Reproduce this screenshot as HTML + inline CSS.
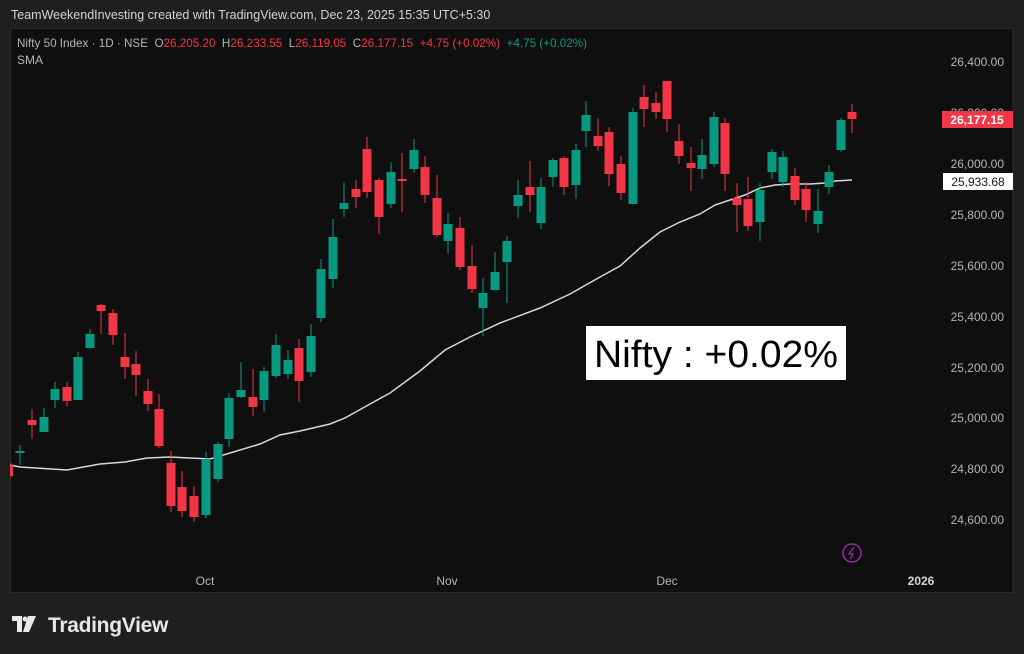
<!DOCTYPE html>
<html><head><meta charset="utf-8"><style>
html,body{margin:0;padding:0;background:#1f1f1f;width:1024px;height:654px;overflow:hidden;font-family:"Liberation Sans",sans-serif}
</style></head><body>
<svg id="s" width="1024" height="654" xmlns="http://www.w3.org/2000/svg" style="position:absolute;left:0;top:0">
<rect x="0" y="0" width="1024" height="654" fill="#1f1f1f"/>
<text x="11" y="19" fill="#d1d4dc" font-size="12.5">TeamWeekendInvesting created with TradingView.com, Dec 23, 2025 15:35 UTC+5:30</text>
<rect x="10.5" y="28.5" width="1003" height="564" fill="#0f0f0f" stroke="#2a2a2a"/>
<line x1="1013" y1="29" x2="1013" y2="592" stroke="#2a2a2a"/>
<text x="17" y="47" fill="#b2b5be" font-size="12" textLength="570" lengthAdjust="spacingAndGlyphs" xml:space="preserve">Nifty 50 Index · 1D · NSE  O<tspan fill="#f23645">26,205.20</tspan>  H<tspan fill="#f23645">26,233.55</tspan>  L<tspan fill="#f23645">26,119.05</tspan>  C<tspan fill="#f23645">26,177.15</tspan>  <tspan fill="#f23645">+4.75 (+0.02%)</tspan>  <tspan fill="#089981">+4.75 (+0.02%)</tspan></text>
<text x="17" y="64" fill="#b2b5be" font-size="12">SMA</text>
<g fill="#b2b5be" font-size="12" text-anchor="end">
<text x="1004" y="66">26,400.00</text>
<text x="1004" y="117">26,200.00</text>
<text x="1004" y="168">26,000.00</text>
<text x="1004" y="219">25,800.00</text>
<text x="1004" y="270">25,600.00</text>
<text x="1004" y="321">25,400.00</text>
<text x="1004" y="372">25,200.00</text>
<text x="1004" y="422">25,000.00</text>
<text x="1004" y="473">24,800.00</text>
<text x="1004" y="524">24,600.00</text>
</g>
<g fill="#b2b5be" font-size="12" text-anchor="middle">
<text x="205" y="585">Oct</text><text x="447" y="585">Nov</text><text x="667" y="585">Dec</text><text x="921" y="585" fill="#d1d4dc" font-weight="bold">2026</text>
</g>
<polyline fill="none" stroke="#d8d8d8" stroke-width="1.5" points="10,465 20,467 67,470 100,464 125,462 147,458 170,457 210,459 230,453 260,444 280,435 300,431 330,424 345,418 370,404 390,393 420,371 445,350 470,337 500,323 540,308 570,294 600,277 620,266 640,248 660,232 680,222 700,214 715,205 730,200 745,195 760,188 775,185 790,184 810,184 825,183 835,181 852,180"/>
<g id="c"></g>
<rect x="942" y="111" width="71" height="17" fill="#f23645"/>
<text x="977" y="124" fill="#fff" font-size="12" text-anchor="middle" font-weight="bold">26,177.15</text>
<rect x="943" y="173" width="70" height="17" fill="#fff"/>
<text x="978" y="186" fill="#131722" font-size="12" text-anchor="middle">25,933.68</text>
<rect x="586" y="326" width="260" height="54" fill="#fff"/>
<text x="594" y="367" fill="#000" font-size="38" textLength="244" lengthAdjust="spacingAndGlyphs" font-family="Liberation Sans, sans-serif">Nifty : +0.02%</text>
<circle cx="852" cy="553" r="9" fill="none" stroke="#9c27b0" stroke-width="1.5"/>
<path d="M854,547 L849,554 L853,554 L850,559" fill="none" stroke="#9c27b0" stroke-width="1.3"/>
<g fill="#e8e8e8">
<path d="M12,616 h10 v16 h-5 v-11 h-5z"/>
<circle cx="25" cy="619" r="2.5"/>
<path d="M28,616 h8 l-7,16 h-6z"/>
</g>
<text x="48" y="632" fill="#e8e8e8" font-size="21" font-weight="bold" letter-spacing="-0.3">TradingView</text>
</svg>
<script>
var G="#089981",R="#f23645";
var d=[[11,R,465,476,463,477],[20,G,451,453,445,465],[32,R,420,425,409,439],[44,G,417,432,408,432],[55,G,389,400,382,408],[67,R,387,401,382,406],[78,G,357,400,352,400],[90,G,334,348,329,348],[101,R,305,311,304,334],[113,R,313,335,309,345],[125,R,357,367,333,379],[136,R,364,375,351,396],[148,R,391,404,379,411],[159,R,409,446,394,448],[171,R,463,506,451,512],[182,R,487,511,471,517],[194,R,496,517,486,522],[206,G,459,515,452,518],[218,G,444,479,442,482],[229,G,398,439,393,447],[241,G,390,397,362,398],[253,R,397,407,369,416],[264,G,371,400,367,412],[276,G,345,376,334,378],[288,G,360,374,350,379],[299,R,348,381,339,402],[311,G,336,372,324,377],[321,G,269,318,259,322],[333,G,237,279,219,288],[344,G,203,209,182,217],[356,R,189,197,180,208],[367,R,149,192,137,198],[379,R,180,217,178,234],[391,G,172,204,162,208],[402,R,179,181,153,212],[414,G,150,169,139,173],[425,R,167,195,156,203],[437,R,198,235,175,237],[448,G,224,241,213,253],[460,R,228,267,217,270],[472,R,266,289,245,293],[483,G,293,308,278,336],[495,G,272,290,252,290],[507,G,241,262,236,303],[518,G,195,206,180,218],[530,R,187,195,161,212],[541,G,187,223,178,229],[553,G,160,177,158,187],[564,R,158,187,156,195],[576,G,150,185,144,199],[586,G,115,131,101,147],[598,R,136,146,118,151],[609,R,132,174,127,186],[621,R,164,193,156,200],[633,G,112,204,108,204],[644,R,97,109,85,127],[656,R,103,112,92,119],[667,R,81,119,81,132],[679,R,141,156,124,164],[691,R,163,168,147,191],[702,G,155,169,139,179],[714,G,117,164,112,167],[725,R,123,174,118,191],[737,R,198,205,183,232],[748,R,199,226,177,231],[760,G,190,222,183,241],[772,G,152,172,149,179],[783,G,157,182,151,187],[795,R,176,200,168,205],[806,R,189,210,182,222],[818,G,211,224,189,233],[829,G,172,187,165,194],[841,G,120,150,118,152],[852,R,112,119,104,133]];
var h="";d.forEach(function(c){var x=c[0],w=c[0]==11?3:9,bx=c[0]==11?10:x-4.5;
h+='<line x1="'+x+'" x2="'+x+'" y1="'+c[4]+'" y2="'+c[5]+'" stroke="'+c[1]+'" stroke-width="1"/>';
h+='<rect x="'+bx+'" y="'+c[2]+'" width="'+w+'" height="'+Math.max(1.5,c[3]-c[2])+'" fill="'+c[1]+'"/>';});
document.getElementById("c").innerHTML=h;
</script>
</body></html>
